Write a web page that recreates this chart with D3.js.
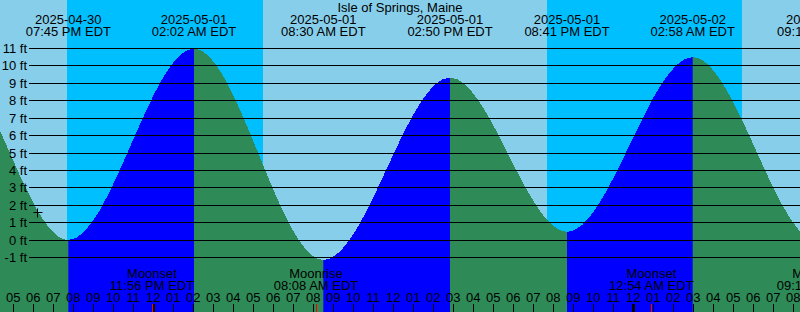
<!DOCTYPE html>
<html>
<head>
<meta charset="utf-8">
<script src="https://cdn.jsdelivr.net/npm/d3@7"></script>
<style>
  body { margin: 0; background: #fff; }
  svg { display: block; font-family: "Liberation Sans", Arial, sans-serif; font-size: 13px; }
</style>
</head>
<body>
<div id="chart"></div>
<script>
var title = "Isle of Springs, Maine";

// tide extremes (EDT); the outer ones lie outside the window and only shape the curve
var tideTimes = ["2025-04-30 07:35", "2025-04-30 13:45", "2025-04-30 19:45", "2025-05-01 02:02",
                 "2025-05-01 08:30", "2025-05-01 14:50", "2025-05-01 20:41", "2025-05-02 02:58",
                 "2025-05-02 09:18", "2025-05-02 15:35"];
var tideHeights = [0.3, 10.4, 0.0, 11.0, -1.15, 9.33, 0.47, 10.5, -0.2, 9.6];

// night = sunset -> sunrise
var nightStart = ["2025-04-30 19:41", "2025-05-01 19:42"];
var nightEnd = ["2025-05-01 05:28", "2025-05-02 05:27"];

var moonTimes = ["2025-04-30 23:56", "2025-05-01 08:08", "2025-05-02 00:54", "2025-05-02 09:17"];
var moonEvents = ["Moonset", "Moonrise", "Moonset", "Moonrise"];

var markTime = "2025-04-30 18:12";
var markHeight = 1.62;

var yTicks = [-1, 0, 1, 2, 3, 4, 5, 6, 7, 8, 9, 10, 11];
var windowStart = "2025-04-30 16:20";
var windowEnd = "2025-05-02 08:20";

var width = 800, height = 312;

var parseT = d3.utcParse("%Y-%m-%d %H:%M");
var fmtDate = d3.utcFormat("%Y-%m-%d");
var fmtTime = d3.utcFormat("%I:%M %p EDT");
var fmtHour = d3.utcFormat("%I");

var tides = tideTimes.map(function(t, i) { return { t: parseT(t), h: tideHeights[i] }; });

var x = d3.scaleUtc()
  .domain([parseT(windowStart), parseT(windowEnd)])
  .range([0, width]);

var y = d3.scaleLinear()
  .domain([-1, 11])
  .range([257.5, 48.5]);

var svg = d3.select("#chart").append("svg")
  .attr("width", width)
  .attr("height", height);

// day / night background
svg.append("rect")
  .attr("width", width).attr("height", height)
  .attr("fill", "#87CEEB");

svg.selectAll(".night")
  .data(nightStart)
  .enter().append("rect")
    .attr("class", "night")
    .attr("x", function(d) { return x(parseT(d)); })
    .attr("width", function(d, i) { return x(parseT(nightEnd[i])) - x(parseT(d)); })
    .attr("y", 0)
    .attr("height", height)
    .attr("fill", "#00BFFF")
    .attr("shape-rendering", "crispEdges");

// flood intervals (rising tide) for the clip
var flood = [];
for (var i = 0; i < tides.length - 1; i++) {
  if (tides[i + 1].h > tides[i].h) flood.push([tides[i].t, tides[i + 1].t]);
}

svg.append("clipPath")
  .attr("id", "flood")
  .selectAll("rect")
  .data(flood)
  .enter().append("rect")
    .attr("x", function(d) { return x(d[0]); })
    .attr("width", function(d) { return x(d[1]) - x(d[0]); })
    .attr("y", 0)
    .attr("height", height);

var area = d3.area()
  .x(function(d) { return x(d.t); })
  .y0(height)
  .y1(function(d) { return y(d.h); })
  .curve(d3.curveMonotoneX);

svg.append("path")
  .datum(tides)
  .attr("d", area)
  .attr("fill", "#2E8B57")
  .attr("shape-rendering", "crispEdges");

svg.append("path")
  .datum(tides)
  .attr("d", area)
  .attr("fill", "#0000FF")
  .attr("clip-path", "url(#flood)")
  .attr("shape-rendering", "crispEdges");

// height grid
var grid = svg.append("g");
grid.selectAll("line")
  .data(yTicks)
  .enter().append("line")
    .attr("x1", 29).attr("x2", width)
    .attr("y1", function(d) { return y(d); })
    .attr("y2", function(d) { return y(d); })
    .attr("stroke", "#000")
    .attr("shape-rendering", "crispEdges");

grid.selectAll("text")
  .data(yTicks)
  .enter().append("text")
    .attr("x", 27)
    .attr("y", function(d) { return y(d) + 4.5; })
    .attr("text-anchor", "end")
    .text(function(d) { return d + " ft"; });

// title and tide labels (only events from the window start on)
svg.append("text")
  .attr("x", width / 2).attr("y", 12)
  .attr("text-anchor", "middle")
  .text(title);

var labelled = tides.filter(function(d) {
  return d.t >= x.domain()[0] && x(d.t) < width + 40;
});

var tl = svg.selectAll(".tide-label")
  .data(labelled)
  .enter().append("g")
    .attr("class", "tide-label")
    .attr("transform", function(d) { return "translate(" + x(d.t) + ",0)"; });
tl.append("text").attr("y", 24).attr("text-anchor", "middle")
  .text(function(d) { return fmtDate(d.t); });
tl.append("text").attr("y", 36).attr("text-anchor", "middle")
  .text(function(d) { return fmtTime(d.t); });

// moon labels
var ml = svg.selectAll(".moon-label")
  .data(moonTimes)
  .enter().append("g")
    .attr("class", "moon-label")
    .attr("transform", function(d) { return "translate(" + x(parseT(d)) + ",0)"; });
ml.append("text").attr("y", 278).attr("text-anchor", "middle")
  .text(function(d, i) { return moonEvents[i]; });
ml.append("text").attr("y", 290).attr("text-anchor", "middle")
  .text(function(d) { return fmtTime(parseT(d)); });

// hour ticks
var hours = d3.utcHour.range(x.domain()[0], x.domain()[1]);
var ticks = svg.append("g");
ticks.selectAll("line")
  .data(hours)
  .enter().append("line")
    .attr("x1", function(d) { return Math.round(x(d)) + 0.5; })
    .attr("x2", function(d) { return Math.round(x(d)) + 0.5; })
    .attr("y1", 304).attr("y2", height)
    .attr("stroke", "#000")
    .attr("stroke-width", function(d) { return d.getUTCHours() === 0 ? 3 : 1; });

ticks.selectAll("text")
  .data(hours)
  .enter().append("text")
    .attr("x", function(d) { return x(d); })
    .attr("y", 302)
    .attr("text-anchor", "middle")
    .text(function(d) { return fmtHour(d); });

// moon event ticks
svg.selectAll(".moon-tick")
  .data(moonTimes)
  .enter().append("line")
    .attr("class", "moon-tick")
    .attr("x1", function(d) { return Math.round(x(parseT(d))) + 0.5; })
    .attr("x2", function(d) { return Math.round(x(parseT(d))) + 0.5; })
    .attr("y1", 304).attr("y2", height)
    .attr("stroke", "#FF0000");

// current-time marker
var mx = Math.round(x(parseT(markTime))) + 0.5, my = Math.round(y(markHeight)) + 0.5;
svg.append("path")
  .attr("d", "M" + (mx - 4) + "," + my + "H" + (mx + 5) + "M" + mx + "," + (my - 4) + "V" + (my + 5))
  .attr("stroke", "#000")
  .attr("fill", "none");
</script>
</body>
</html>
